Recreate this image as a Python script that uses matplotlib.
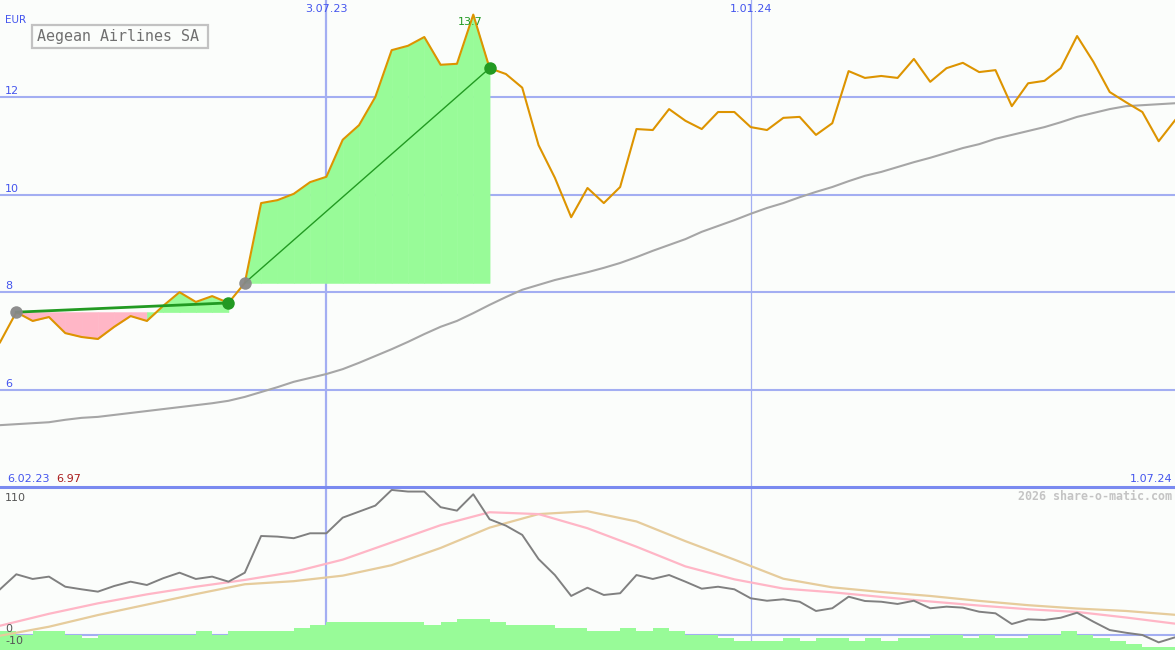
import matplotlib
matplotlib.use("Agg")
import matplotlib.pyplot as plt
import matplotlib.dates as mdates
from matplotlib.lines import Line2D
from matplotlib.patches import Rectangle
import pandas as pd

# ---------------- data ----------------
title = "Aegean Airlines SA"
currency = "EUR"
dates = pd.date_range("2023-02-13", periods=73, freq="7D")
x_end = "2024-07-01"

close = [6.97, 7.59, 7.41, 7.49, 7.16, 7.08, 7.04, 7.29, 7.51, 7.41,
         7.72, 8.00, 7.80, 7.92, 7.78, 8.19, 9.83, 9.89, 10.02, 10.26,
         10.37, 11.13, 11.43, 12.01, 12.97, 13.06, 13.24, 12.67, 12.69, 13.70,
         12.60, 12.48, 12.20, 11.02, 10.35, 9.54, 10.14, 9.83, 10.16, 11.35,
         11.33, 11.76, 11.52, 11.35, 11.70, 11.70, 11.39, 11.33, 11.58, 11.60,
         11.23, 11.47, 12.54, 12.40, 12.44, 12.40, 12.79, 12.32, 12.60, 12.71,
         12.52, 12.56, 11.82, 12.29, 12.34, 12.60, 13.26, 12.73, 12.11, 11.90,
         11.70, 11.10, 11.53]

ma_long = [5.27, 5.29, 5.31, 5.33, 5.38, 5.42, 5.44, 5.48, 5.52, 5.56,
           5.60, 5.64, 5.68, 5.72, 5.77, 5.85, 5.95, 6.05, 6.16, 6.24,
           6.32, 6.42, 6.55, 6.69, 6.83, 6.98, 7.14, 7.29, 7.41, 7.57,
           7.74, 7.90, 8.05, 8.15, 8.25, 8.33, 8.41, 8.50, 8.60, 8.72,
           8.85, 8.97, 9.09, 9.24, 9.36, 9.48, 9.61, 9.73, 9.83, 9.95,
           10.06, 10.16, 10.28, 10.39, 10.47, 10.57, 10.67, 10.76, 10.86, 10.96,
           11.04, 11.15, 11.23, 11.31, 11.39, 11.49, 11.60, 11.68, 11.76, 11.82,
           11.84, 11.86, 11.88]

momentum = [36.9, 49.1, 45.3, 47.2, 39.0, 36.9, 35.0, 39.6, 43.1, 40.4,
            45.9, 50.4, 45.3, 47.2, 43.1, 50.4, 80.2, 79.7, 78.4, 82.4,
            82.4, 95.1, 100.0, 104.9, 117.6, 116.3, 116.3, 103.6, 100.8, 114.1,
            93.8, 88.6, 81.1, 61.5, 48.5, 31.5, 38.2, 32.3, 33.7, 48.5,
            45.3, 48.5, 43.1, 37.4, 39.0, 36.9, 29.6, 27.6, 28.8, 26.8,
            19.3, 21.5, 30.9, 27.4, 26.8, 25.0, 27.6, 21.5, 22.8, 22.0,
            18.7, 17.4, 8.7, 12.5, 12.0, 13.8, 17.9, 10.6, 3.8, 1.6,
            -0.2, -6.2, -2.1]

histogram = [3.0, 0.0, 3.0, 3.0, 0.0, -2.3, 0.0, 0.0, 0.0, 0.0,
             0.0, 0.0, 3.0, 0.0, 3.0, 3.0, 3.0, 3.0, 5.4, 7.9,
             10.3, 10.3, 10.3, 10.3, 10.3, 10.3, 7.9, 10.3, 12.8, 12.8,
             10.3, 7.9, 7.9, 7.9, 5.4, 5.4, 3.0, 3.0, 5.4, 3.0,
             5.4, 3.0, 0.0, 0.0, -2.7, -5.1, -5.1, -5.1, -2.7, -5.1,
             -2.7, -2.7, -5.1, -2.7, -5.1, -2.7, -2.7, 0.0, 0.0, -2.7,
             0.0, -2.7, -2.7, 0.0, 0.0, 3.0, 0.0, -2.7, -5.1, -7.6,
             -10.0, -10.0, -10.0]

signal_idx = [0, 3, 6, 9, 12, 15, 18, 21, 24, 27, 30, 33, 36, 39, 42, 45,
              48, 51, 54, 57, 60, 63, 66, 69, 72]
signal_fast = [7.3, 17.0, 25.5, 32.8, 39.0, 44.5, 51.0, 61.0, 75.0, 89.0,
               99.5, 98.0, 86.5, 71.5, 55.5, 45.0, 37.5, 34.5, 30.7, 27.0,
               23.7, 20.7, 18.5, 14.0, 9.0]
signal_slow = [-0.8, 6.5, 16.0, 24.5, 33.0, 41.0, 43.5, 48.0, 56.5, 70.5,
               87.0, 98.0, 100.3, 92.0, 76.0, 61.0, 45.5, 38.5, 34.7, 31.5,
               27.5, 24.0, 21.3, 19.3, 16.2]

price_ticks = [6, 8, 10, 12]
osc_labels = [110, 0, -10]
marker_dates = ["2023-07-03", "2024-01-01"]
marker_labels = ["3.07.23", "1.01.24"]
first_label = "6.02.23"
last_label = "1.07.24"
trend_segments = [(1, 14), (15, 30)]
watermark = "2026 share-o-matic.com"

# ---------------- style ----------------
W, H = 1175, 650
BG = "#fbfdfb"
GRID = "#a3aef2"
SEP = "#7a8af0"
BLUE_TXT = "#4455ee"
ORANGE = "#dd9400"
MA_GREY = "#a6a6a6"
LGREEN = "#98fb98"
PINK_FILL = "#ffb6c6"
DGREEN = "#229a22"

fig = plt.figure(figsize=(W / 100, H / 100), dpi=100, facecolor=BG)
top_h = 487 / H
ax = fig.add_axes([0, 1 - top_h, 1, top_h])
ax2 = fig.add_axes([0, 0, 1, 1 - top_h])
for a in (ax, ax2):
    a.set_axis_off()
    a.set_xlim(dates[0], pd.Timestamp(x_end))

ax.set_ylim(4, 14)
ax2.set_ylim(-12.4, 120)

# grid
for t in price_ticks:
    ax.axhline(t, color=GRID, lw=1.5, zorder=1)
    ax.annotate(str(t), xy=(0, t), xycoords=("axes fraction", "data"),
                xytext=(5, 1), textcoords="offset pixels", ha="left", va="bottom",
                color=BLUE_TXT, fontsize=8)
for d, lw in zip(marker_dates, [1.6, 0.9]):
    ax.axvline(pd.Timestamp(d), color=GRID, lw=lw, zorder=1)
    ax2.axvline(pd.Timestamp(d), color=GRID, lw=lw, zorder=1)
for d, lab in zip(marker_dates, marker_labels):
    ax.text(pd.Timestamp(d), 1 - 9 / 487, lab, transform=ax.get_xaxis_transform(),
            ha="center", va="center", color=BLUE_TXT, fontsize=8)

# trend fills
for a_i, b_i in trend_segments:
    base = close[a_i]
    for k in range(a_i, b_i):
        col = LGREEN if close[k + 1] >= base else PINK_FILL
        ax.fill_between(dates[k:k + 2], close[k:k + 2], base, color=col,
                        lw=0.4, edgecolor=col, zorder=2)

ax.plot(dates, ma_long, color=MA_GREY, lw=1.5, zorder=3)
ax.plot(dates, close, color=ORANGE, lw=1.5, zorder=4)

for (a_i, b_i), lw in zip(trend_segments, [2.0, 1.0]):
    ax.plot([dates[a_i], dates[b_i]], [close[a_i], close[b_i]], color=DGREEN, lw=lw, zorder=5)
    ax.plot([dates[a_i]], [close[a_i]], "o", color="#888888", ms=9, mec="none", zorder=6, alpha=0.95)
    ax.plot([dates[b_i]], [close[b_i]], "o", color=DGREEN, ms=9, mec="none", zorder=6)

imax = max(range(len(close)), key=lambda i: close[i])
ax.annotate(f"{close[imax]:.1f}", xy=(dates[imax], close[imax]), xytext=(-3, -2),
            textcoords="offset pixels", ha="center", va="top", color=DGREEN, fontsize=8, zorder=7)

# texts in top panel
def px(x, y):
    return x / W, 1 - y / H

fig.text(*px(5, 20), currency, ha="left", va="center", color=BLUE_TXT, fontsize=7.5)
fig.add_artist(Rectangle(px(32, 48), 176 / W, 23 / H, transform=fig.transFigure,
                         fill=False, ec="#c2c2c2", lw=1.6))
fig.text(*px(37, 37), title, ha="left", va="center", color="#707070",
         family="DejaVu Sans Mono", fontsize=10.8)
fig.text(*px(7, 479), first_label, ha="left", va="center", color=BLUE_TXT, fontsize=8)
fig.text(*px(56, 479), f"{close[0]:.2f}", ha="left", va="center", color="#aa1c1c", fontsize=8)
fig.text(*px(1172, 479), last_label, ha="right", va="center", color=BLUE_TXT, fontsize=8)
fig.add_artist(Line2D([0, 1], [1 - top_h] * 2, transform=fig.transFigure, color=SEP, lw=2.2))
fig.text(*px(1172, 496), watermark, ha="right", va="center", color="#c4c4c4",
         family="DejaVu Sans Mono", fontweight="bold", fontsize=8.4)

# bottom panel
ax2.axhline(0, color=GRID, lw=1.5, zorder=1)
bottom = ax2.get_ylim()[0]
ax2.bar(dates, [v - bottom for v in histogram], width=7, align="edge", bottom=bottom,
        color=LGREEN, lw=0, zorder=2)
sig_dates = [dates[i] for i in signal_idx]
ax2.plot(sig_dates, signal_slow, color="#e6cc9c", lw=1.6, zorder=3)
ax2.plot(sig_dates, signal_fast, color="#ffb6c6", lw=1.6, zorder=3)
ax2.plot(dates, momentum, color="#808080", lw=1.4, zorder=4)
for v in osc_labels:
    dy = -4 if v == max(osc_labels) else 1
    ax2.annotate(str(v), xy=(0, v), xycoords=("axes fraction", "data"),
                 xytext=(5, dy), textcoords="offset pixels", ha="left", va="bottom",
                 color="#555555", fontsize=8, zorder=6)

fig.savefig("out.png", dpi=100, facecolor=BG)
